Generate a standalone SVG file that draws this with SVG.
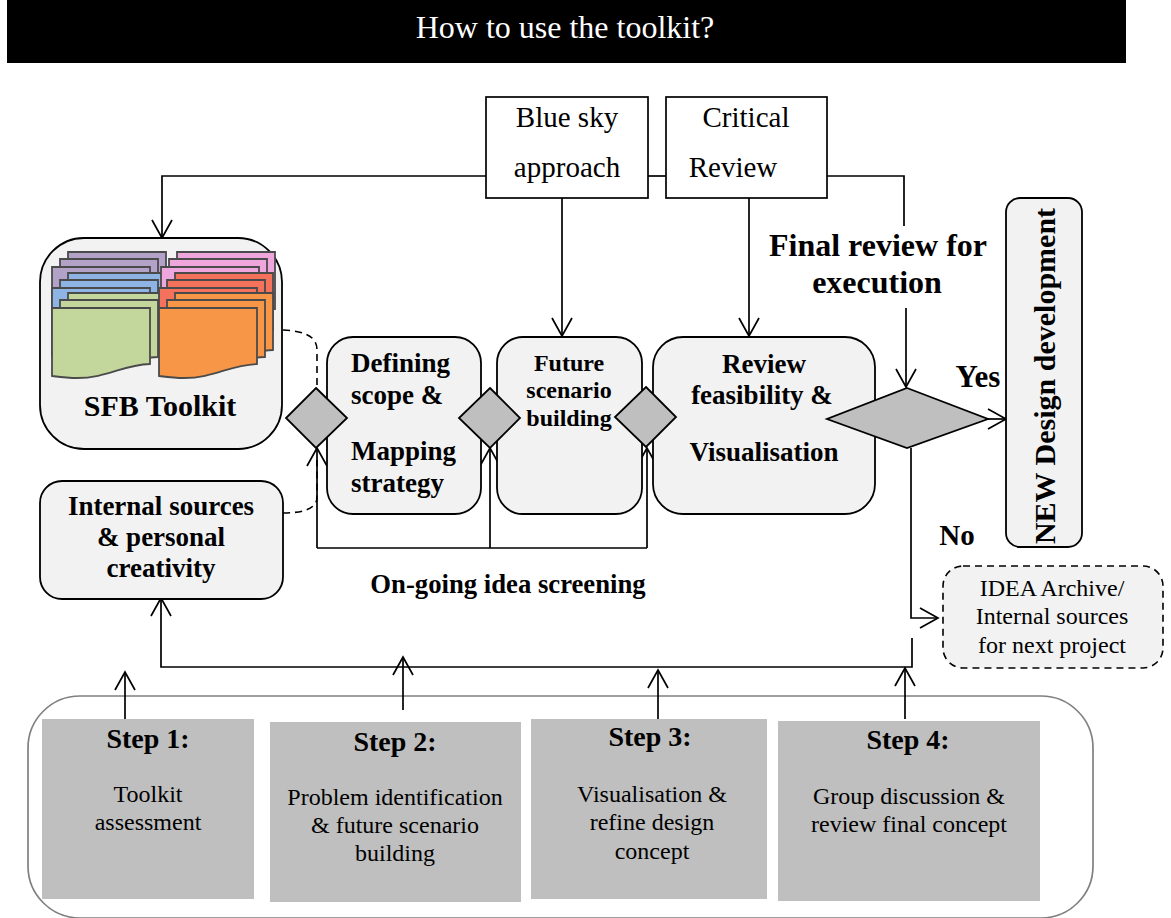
<svg xmlns="http://www.w3.org/2000/svg" width="1171" height="918" viewBox="0 0 1171 918">
<defs>
<marker id="open" viewBox="-20 -12 21 24" refX="0" refY="0" markerWidth="21" markerHeight="24" markerUnits="userSpaceOnUse" orient="auto" overflow="visible">
<path d="M-18,-10 L0,0 L-18,10" fill="none" stroke="#000" stroke-width="1.7"/>
</marker>
<path id="sheet" d="M0,0 H98 V57 C70,58 55,70 25,70 C15,70 8,69 0,68 Z"/>
</defs>
<style>
text{font-family:"Liberation Serif","Times New Roman",serif;fill:#000;text-anchor:middle}
.b{font-weight:bold}
.box{fill:#f2f2f2;stroke:#000;stroke-width:1.8}
.wh{fill:#fff;stroke:#000;stroke-width:1.7}
.dia{fill:#bfbfbf;stroke:#000;stroke-width:1.8}
.step{fill:#bfbfbf}
.c{fill:none;stroke:#000;stroke-width:1.7}
.d{fill:none;stroke:#000;stroke-width:1.6;stroke-dasharray:7 5}
.s{stroke:#4a4a4a;stroke-width:1.8}
.st{text-anchor:start}
</style>
<rect id="banner" x="7" y="0" width="1119" height="63" fill="#000"/>
<text x="565" y="38" font-size="32" style="fill:#fff">How to use the toolkit?</text>

<g id="steps-panel"><rect x="28" y="696" width="1065" height="222" rx="52" fill="#fff" stroke="#808080" stroke-width="1.7"/></g>

<g id="connectors">
<path class="c" d="M486,176 H162 V238" marker-end="url(#open)"/>
<path class="c" d="M562,198 V336" marker-end="url(#open)"/>
<path class="c" d="M749,198 V336" marker-end="url(#open)"/>
<path class="c" d="M648,176 H666"/>
<path class="c" d="M827,176 H904 V226"/>
<path class="c" d="M906,308 V387" marker-end="url(#open)"/>
<path class="c" d="M988,419 H1006" marker-end="url(#open)"/>
<path class="c" d="M911,448 V618 H938" marker-end="url(#open)"/>
<path class="c" d="M912,638 V667 H161 V598" marker-end="url(#open)"/>
<path class="c" d="M317,548 V448" marker-end="url(#open)"/>
<path class="c" d="M490,548 V448" marker-end="url(#open)"/>
<path class="c" d="M647,548 V448" marker-end="url(#open)"/>
<path class="c" d="M317,548 H647"/>
<path class="c" d="M125,724 V672" marker-end="url(#open)"/>
<path class="c" d="M403,710 V657" marker-end="url(#open)"/>
<path class="c" d="M658,722 V670" marker-end="url(#open)"/>
<path class="c" d="M905,719 V668" marker-end="url(#open)"/>
<path class="d" d="M283,330 C300,331 317,334 317,350 V390"/>
<path class="d" d="M283,513 C300,513 317,510 317,497 V460"/>
</g>

<g id="blue-sky"><rect class="wh" x="486" y="97" width="162" height="101"/>
<text x="567" y="127" font-size="29">Blue sky</text>
<text x="567" y="177" font-size="29">approach</text></g>
<g id="critical-review"><rect class="wh" x="666" y="97" width="161" height="101"/>
<text x="746" y="127" font-size="29">Critical</text>
<text x="733" y="177" font-size="29">Review</text></g>

<g id="sfb-toolkit"><rect class="box" x="40" y="238" width="242" height="211" rx="44"/>
<g class="s" fill="#b3a2c7">
<use href="#sheet" x="68" y="252"/><use href="#sheet" x="60" y="259"/><use href="#sheet" x="52" y="267"/></g>
<g class="s" fill="#8eb4e3">
<use href="#sheet" x="68" y="273"/><use href="#sheet" x="60" y="280"/><use href="#sheet" x="52" y="288"/></g>
<g class="s" fill="#c3d69b">
<use href="#sheet" x="68" y="293"/><use href="#sheet" x="60" y="300"/></g>
<path class="s" fill="#c3d69b" d="M52,308 H150 V364 C122,365 107,378 77,378 C67,378 60,377 52,376 Z"/>
<g class="s" fill="#eea6dc">
<use href="#sheet" x="177" y="252"/><use href="#sheet" x="169" y="259"/><use href="#sheet" x="161" y="267"/></g>
<g class="s" fill="#f4715c">
<use href="#sheet" x="175" y="273"/><use href="#sheet" x="167" y="280"/><use href="#sheet" x="159" y="288"/></g>
<g class="s" fill="#f79646">
<use href="#sheet" x="175" y="293"/><use href="#sheet" x="167" y="300"/></g>
<path class="s" fill="#f79646" d="M159,308 H257 V364 C229,365 214,378 184,378 C174,378 167,377 159,376 Z"/>
<text class="b" x="160" y="416" font-size="30">SFB Toolkit</text></g>

<g id="internal-sources"><rect class="box" x="40" y="481" width="243" height="118" rx="22"/>
<text class="b" x="161" y="515" font-size="27">Internal sources</text>
<text class="b" x="161" y="546" font-size="27">&amp; personal</text>
<text class="b" x="161" y="577" font-size="27">creativity</text></g>

<g id="defining-scope"><rect class="box" x="327" y="337" width="154" height="177" rx="26"/>
<text class="b st" x="351" y="372" font-size="27">Defining</text>
<text class="b st" x="351" y="404" font-size="27">scope &amp;</text>
<text class="b st" x="351" y="460" font-size="27">Mapping</text>
<text class="b st" x="351" y="492" font-size="27">strategy</text></g>

<g id="future-scenario"><rect class="box" x="497" y="337" width="145" height="177" rx="26"/>
<text class="b" x="569" y="371" font-size="24">Future</text>
<text class="b" x="569" y="398" font-size="24">scenario</text>
<text class="b" x="569" y="426" font-size="24">building</text></g>

<g id="review-feasibility"><rect class="box" x="653" y="337" width="222" height="177" rx="30"/>
<text class="b" x="764" y="373" font-size="27">Review</text>
<text class="b" x="762" y="404" font-size="27">feasibility &amp;</text>
<text class="b" x="764" y="461" font-size="27">Visualisation</text></g>

<g id="gates">
<polygon class="dia" points="316,388 347,418 316,448 286,418"/>
<polygon class="dia" points="490,388 520,418 490,448 459,418"/>
<polygon class="dia" points="646,387 676,417 646,447 615,417"/>
<polygon class="dia" points="907,388 988,419 907,448 827,419"/>
</g>

<text class="b" x="878" y="256" font-size="32">Final review for</text>
<text class="b" x="877" y="293" font-size="32">execution</text>
<text class="b" x="978" y="387" font-size="31">Yes</text>
<text class="b" x="957" y="545" font-size="29">No</text>
<text class="b" x="508" y="593" font-size="26.7">On-going idea screening</text>

<g id="new-design"><rect class="box" x="1006" y="198" width="76" height="349" rx="14"/>
<text class="b" transform="translate(1055,376) rotate(-90)" font-size="30">NEW Design development</text></g>

<g id="idea-archive"><rect x="943" y="566" width="220" height="102" rx="20" fill="#f2f2f2" stroke="#000" stroke-width="1.6" stroke-dasharray="7 5"/>
<text x="1052" y="596" font-size="24">IDEA Archive/</text>
<text x="1052" y="624" font-size="24">Internal sources</text>
<text x="1052" y="653" font-size="24">for next project</text></g>

<g id="step-1"><rect class="step" x="42" y="719" width="212" height="180"/>
<text class="b" x="148" y="748" font-size="28">Step 1:</text>
<text x="148" y="802" font-size="24">Toolkit</text>
<text x="148" y="830" font-size="24">assessment</text></g>
<g id="step-2"><rect class="step" x="270" y="722" width="251" height="180"/>
<text class="b" x="395" y="751" font-size="28">Step 2:</text>
<text x="395" y="805" font-size="24">Problem identification</text>
<text x="395" y="833" font-size="24">&amp; future scenario</text>
<text x="395" y="861" font-size="24">building</text></g>
<g id="step-3"><rect class="step" x="531" y="719" width="236" height="180"/>
<text class="b" x="650" y="746" font-size="28">Step 3:</text>
<text x="652" y="802" font-size="24">Visualisation &amp;</text>
<text x="652" y="830" font-size="24">refine design</text>
<text x="652" y="859" font-size="24">concept</text></g>
<g id="step-4"><rect class="step" x="778" y="721" width="262" height="180"/>
<text class="b" x="908" y="749" font-size="28">Step 4:</text>
<text x="909" y="804" font-size="24">Group discussion &amp;</text>
<text x="909" y="832" font-size="24">review final concept</text></g>
</svg>
